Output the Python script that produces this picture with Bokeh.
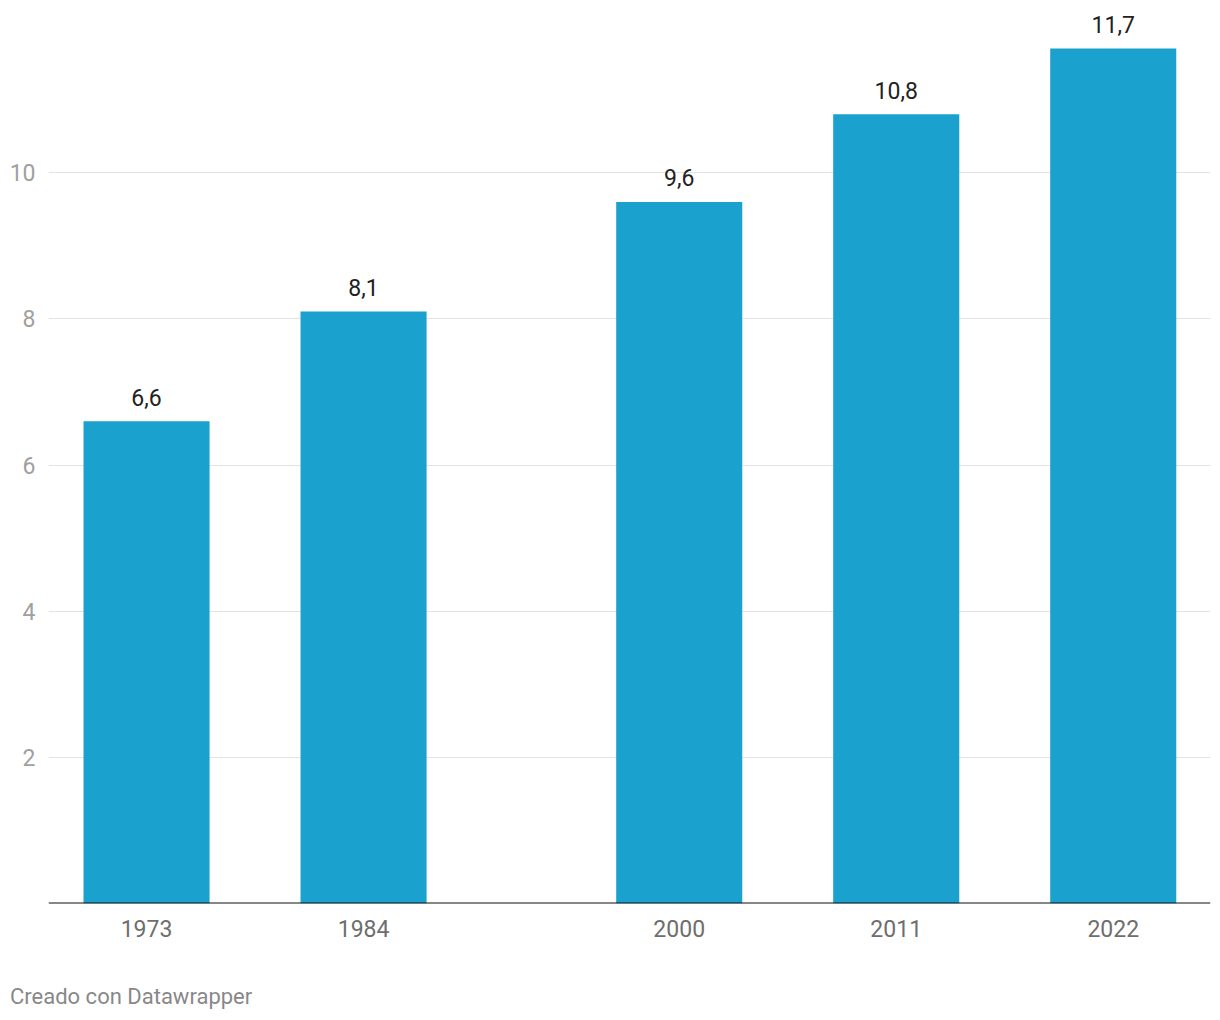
from bokeh.plotting import figure
from bokeh.layouts import column
from bokeh.models import Range1d, FixedTicker, Div, ColumnDataSource, Span
from bokeh.embed import file_html
from bokeh.resources import INLINE
from bokeh.core.properties import value

years = [1973, 1984, 2000, 2011, 2022]
values = [6.6, 8.1, 9.6, 10.8, 11.7]
labels = ["6,6", "8,1", "9,6", "10,8", "11,7"]
y_ticks = [2, 4, 6, 8, 10]
footer = "Creado con Datawrapper"

src = ColumnDataSource(dict(x=years, top=values, lab=labels))

p = figure(width=1212, height=960, output_backend="svg", toolbar_location=None,
           x_range=Range1d(1968.03, 2026.93), y_range=Range1d(0, 12.22),
           min_border_left=48, min_border_right=2, min_border_top=10, min_border_bottom=57)
p.outline_line_color = None
p.background_fill_color = "white"

p.vbar(x="x", top="top", bottom=0, width=6.39, source=src, color="#1aa1cd", line_color=None)
p.text(x="x", y="top", text="lab", source=src, text_align="center", text_baseline="alphabetic",
       y_offset=-24, text_font=value("Roboto"), text_font_size="23px", text_color="#222222")

p.add_layout(Span(location=0, dimension="width", line_color="#111111", line_width=2))

p.xgrid.grid_line_color = None
p.ygrid.ticker = FixedTicker(ticks=y_ticks)
p.ygrid.grid_line_color = "#e3e3e3"
p.ygrid.grid_line_width = 1

p.xaxis.ticker = FixedTicker(ticks=years)
p.xaxis.axis_line_color = None
p.xaxis.major_tick_line_color = None
p.xaxis.minor_tick_line_color = None
p.xaxis.major_label_text_font = "Roboto"
p.xaxis.major_label_text_font_size = "23px"
p.xaxis.major_label_text_color = "#6e6e6e"
p.xaxis.major_label_standoff = 10

p.yaxis.ticker = FixedTicker(ticks=y_ticks)
p.yaxis.axis_line_color = None
p.yaxis.major_tick_line_color = None
p.yaxis.minor_tick_line_color = None
p.yaxis.major_label_text_font = "Roboto"
p.yaxis.major_label_text_font_size = "23px"
p.yaxis.major_label_text_color = "#a0a0a0"
p.yaxis.major_label_standoff = 7

foot = Div(text=footer, width=1200, height=52, margin=(0, 0, 0, 10),
           styles={"font-family": "Roboto", "font-size": "22px", "color": "#888888",
                   "line-height": "26px", "padding-top": "24px"})

layout = column(p, foot, spacing=0)
open("out.html", "w").write(file_html(layout, INLINE))
